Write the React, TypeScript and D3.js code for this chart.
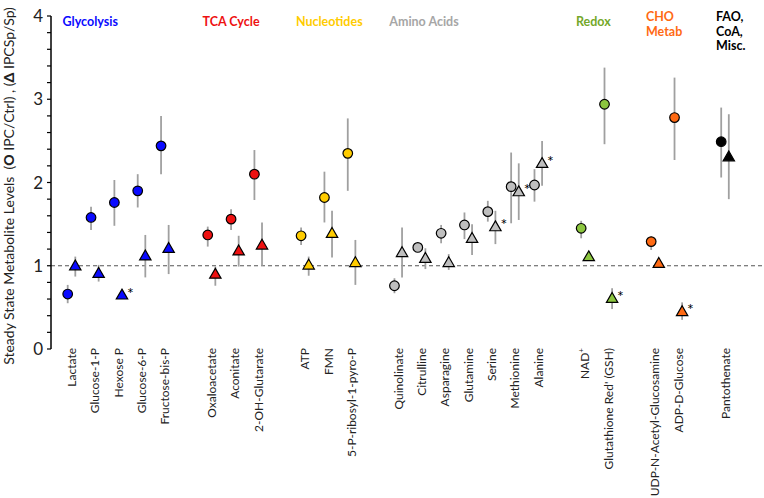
import React from "react";
import * as d3 from "d3";

const W = 764;
const H = 498;

const groupNames = ["Glycolysis", "TCA Cycle", "Nucleotides", "Amino Acids", "Redox", "CHO\nMetab", "FAO,\nCoA,\nMisc."];
const groupLabelColors = ["#0a0aff", "#ee1111", "#ffcc00", "#a6a6a6", "#74a82a", "#ff6a13", "#000000"];
const groupMarkerColors = ["#0a0aff", "#ee1111", "#ffcc00", "#bfbfbf", "#8cc63f", "#ff6a13", "#000000"];
const groupSizes = [5, 3, 3, 7, 2, 2, 1];

const categories = [
  "Lactate", "Glucose-1-P", "Hexose P", "Glucose-6-P", "Fructose-bis-P",
  "Oxaloacetate", "Aconitate", "2-OH-Glutarate",
  "ATP", "FMN", "5-P-ribosyl-1-pyro-P",
  "Quinolinate", "Citrulline", "Asparagine", "Glutamine", "Serine", "Methionine", "Alanine",
  "NAD+", "Glutathione Red' (GSH)",
  "UDP-N-Acetyl-Glucosamine", "ADP-D-Glucose",
  "Pantothenate",
];

// IPC/Ctrl (circles): value, upper, lower
const ipcValue = [0.66, 1.58, 1.76, 1.90, 2.44, 1.37, 1.56, 2.10, 1.36, 1.82, 2.35, 0.76, 1.22, 1.39, 1.49, 1.65, 1.95, 1.97, 1.45, 2.94, 1.29, 2.78, 2.49];
const ipcHigh = [0.77, 1.71, 2.03, 2.10, 2.80, 1.47, 1.68, 2.39, 1.46, 2.13, 2.77, 0.85, 1.27, 1.49, 1.64, 1.78, 2.36, 2.16, 1.54, 3.38, 1.35, 3.26, 2.90];
const ipcLow = [0.55, 1.43, 1.48, 1.70, 2.10, 1.23, 1.43, 1.79, 1.25, 1.52, 1.90, 0.67, 1.17, 1.27, 1.32, 1.53, 1.51, 1.77, 1.33, 2.46, 1.19, 2.27, 2.06];

// IPCSp/Sp (triangles): value, upper, lower
const spValue = [0.99, 0.90, 0.64, 1.11, 1.20, 0.89, 1.17, 1.24, 1.00, 1.38, 1.03, 1.15, 1.08, 1.03, 1.32, 1.46, 1.88, 2.22, 1.10, 0.60, 1.02, 0.44, 2.30];
const spHigh = [1.11, 1.01, 0.68, 1.37, 1.49, 0.99, 1.36, 1.52, 1.11, 1.66, 1.31, 1.46, 1.21, 1.14, 1.50, 1.66, 2.23, 2.50, 1.13, 0.73, 1.05, 0.56, 2.82];
const spLow = [0.87, 0.81, 0.60, 0.86, 0.90, 0.76, 0.99, 1.00, 0.88, 1.10, 0.77, 0.86, 0.96, 0.95, 1.13, 1.26, 1.55, 1.96, 1.07, 0.48, 0.99, 0.35, 1.80];
const spSignificant = [false, false, true, false, false, false, false, false, false, false, false, false, false, false, false, true, true, true, false, true, false, true, false];

const yTicks = [0, 1, 2, 3, 4];

// derived layout: one empty slot between groups
const groupOf: number[] = [];
const slotOf: number[] = [];
{
  let idx = 0;
  groupSizes.forEach((n, g) => {
    for (let k = 0; k < n; k++) {
      groupOf.push(g);
      slotOf.push(idx + g);
      idx++;
    }
  });
}
const groupFirst = groupSizes.map((_, g) => groupOf.indexOf(g));

const x = d3.scaleLinear().domain([0, 28]).range([71.5, 725]);
const y = d3.scaleLinear().domain([0, 4]).range([349, 16]);
const tri = d3.symbol(d3.symbolTriangle, 56)() as string;
const OFF = 3.8;
const FONT = "Lato, 'Open Sans', sans-serif";

export default function App() {
  const minor = d3.range(0, 4.0001, 0.2);
  return (
    <svg width={W} height={H} style={{ position: "absolute", left: 0, top: 0, background: "#fff" }} fontFamily={FONT}>
      {/* dashed reference at 1 */}
      <line x1={51} x2={W} y1={y(1)} y2={y(1)} stroke="#555" strokeWidth={1} strokeDasharray="4,3" />
      {/* y axis */}
      <line x1={51} x2={51} y1={y(0)} y2={y(4)} stroke="#000" strokeWidth={1.5} />
      {minor.map((t, i) => (
        <line key={"m" + i} x1={47} x2={51} y1={y(t)} y2={y(t)} stroke="#000" strokeWidth={1.2} />
      ))}
      {yTicks.map((t) => (
        <text key={"t" + t} x={43} y={y(t) + 6} textAnchor="end" fontSize={17} fill="#222">{t}</text>
      ))}
      <text transform={`translate(14,186) rotate(-90)`} textAnchor="middle" fontSize={14} fill="#222">
        Steady State Metabolite Levels{"\u00a0\u00a0"}(<tspan fontWeight="900">O</tspan> IPC/Ctrl) , (<tspan fontWeight="900">Δ</tspan> IPCSp/Sp)
      </text>

      {/* group labels */}
      {groupNames.map((name, g) => {
        const lines = name.split("\n");
        const gx = x(slotOf[groupFirst[g]]) - 9;
        const y0 = lines.length > 1 ? 21 : 26;
        return lines.map((l, i) => (
          <text key={"g" + g + "-" + i} x={gx} y={y0 + i * 14.5} fontSize={12.5} fontWeight="bold" fill={groupLabelColors[g]}>
            {l}
          </text>
        ));
      })}

      {/* error bars */}
      {categories.map((c, i) => {
        const cx = x(slotOf[i]);
        return (
          <g key={"e" + i} stroke="#a0a0a0" strokeWidth={1.8}>
            <line x1={cx - OFF} x2={cx - OFF} y1={y(ipcHigh[i])} y2={y(ipcLow[i])} />
            <line x1={cx + OFF} x2={cx + OFF} y1={y(spHigh[i])} y2={y(spLow[i])} />
          </g>
        );
      })}

      {/* markers */}
      {categories.map((c, i) => {
        const cx = x(slotOf[i]);
        const col = groupMarkerColors[groupOf[i]];
        return (
          <g key={"p" + i}>
            <circle cx={cx - OFF} cy={y(ipcValue[i])} r={4.8} fill={col} stroke="#000" strokeWidth={1.2} />
            <path d={tri} transform={`translate(${cx + OFF},${y(spValue[i])})`} fill={col} stroke="#000" strokeWidth={1.2} />
            {spSignificant[i] && (
              <text x={cx + OFF + 5} y={y(spValue[i]) + 3} fontSize={16} fill="#000">*</text>
            )}
          </g>
        );
      })}

      {/* category labels */}
      {categories.map((c, i) => {
        const cx = x(slotOf[i]) + 4.5;
        const isNad = c === "NAD+";
        return (
          <text key={"l" + i} transform={`translate(${cx},348) rotate(-90)`} textAnchor="end" fontSize={12} fill="#222">
            {isNad ? (
              <>NAD<tspan fontSize={8} dy={-5}>+</tspan></>
            ) : c}
          </text>
        );
      })}
    </svg>
  );
}
